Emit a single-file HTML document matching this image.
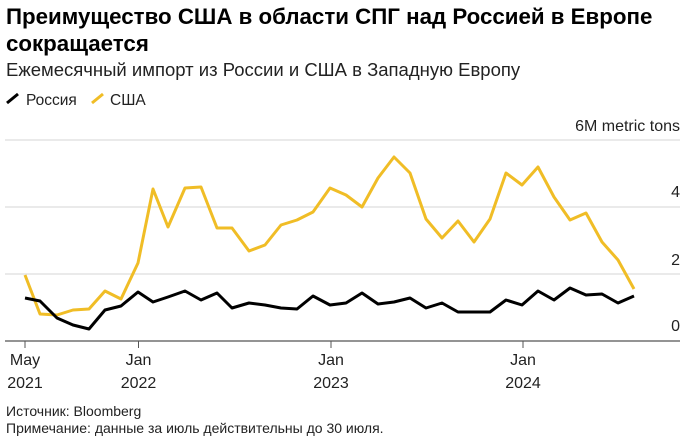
<!DOCTYPE html>
<html><head><meta charset="utf-8"><style>
body{margin:0;width:695px;height:446px;background:#fff;font-family:"Liberation Sans",sans-serif;color:#000;overflow:hidden;position:relative}
.t{position:absolute;left:6px;top:3px;font-size:22.3px;font-weight:bold;line-height:27px;white-space:nowrap}
.s{position:absolute;left:6px;top:59px;font-size:18.5px;color:#222;white-space:nowrap}
.f{position:absolute;left:6px;font-size:14px;color:#222;white-space:nowrap}
</style></head><body>
<div class="t">Преимущество США в области СПГ над Россией в Европе<br>сокращается</div>
<div class="s">Ежемесячный импорт из России и США в Западную Европу</div>
<svg width="695" height="446" style="position:absolute;left:0;top:0" font-family="Liberation Sans, sans-serif">
<line x1="7" y1="103" x2="18" y2="94" stroke="#000" stroke-width="3"/>
<text x="26" y="105" font-size="15.5" fill="#222">Россия</text>
<line x1="92" y1="103" x2="103" y2="94" stroke="#f0bd26" stroke-width="3"/>
<text x="110" y="105" font-size="15.5" fill="#222">США</text>
<text x="680" y="131" font-size="16" text-anchor="end" fill="#222">6M metric tons</text>
<g stroke="#ddd" stroke-width="1.2"><line x1="5" y1="140" x2="680" y2="140"/><line x1="5" y1="207" x2="680" y2="207"/><line x1="5" y1="274" x2="680" y2="274"/></g>
<line x1="5" y1="341" x2="680" y2="341" stroke="#555" stroke-width="1.2"/>
<g font-size="16" fill="#222" text-anchor="end"><text x="680" y="197">4</text><text x="680" y="265">2</text><text x="680" y="331">0</text></g>
<g stroke="#555"><line x1="25" y1="341" x2="25" y2="348"/><line x1="138.5" y1="341" x2="138.5" y2="348"/><line x1="331" y1="341" x2="331" y2="348"/><line x1="523" y1="341" x2="523" y2="348"/></g>
<g font-size="16" fill="#222" text-anchor="middle">
<text x="25" y="365">May</text><text x="25" y="388">2021</text>
<text x="138.5" y="365">Jan</text><text x="138.5" y="388">2022</text>
<text x="331" y="365">Jan</text><text x="331" y="388">2023</text>
<text x="523" y="365">Jan</text><text x="523" y="388">2024</text></g>
<polyline fill="none" stroke="#f0bd26" stroke-width="3" stroke-linejoin="round" points="25,275 40,314 57,315 73,310 89,309 105,291 121,299 138,263 153,189 168,227 185,188 201,187 217,228 232,228 249,251 265,245 281,225 297,220 313,212 330,188 346,195 362,207 378,178 394,157 410,173 426,219 442,238 458,221 474,242 490,219 506,173 522,185 538,167 554,197 570,220 586,213 602,242 618,260 634,289"/>
<polyline fill="none" stroke="#000" stroke-width="3" stroke-linejoin="round" points="25,298 40,301 57,318 73,325 89,329 105,310 121,306 138,292 153,302 168,297 185,291 201,300 217,293 232,308 249,303 265,305 281,308 297,309 313,296 330,305 346,303 362,293 378,304 394,302 410,298 426,308 442,303 458,312 474,312 490,312 506,300 522,305 538,291 554,300 570,288 586,295 602,294 618,303 634,296"/>
</svg>
<div class="f" style="top:403px">Источник: Bloomberg</div>
<div class="f" style="top:420px">Примечание: данные за июль действительны до 30 июля.</div>
</body></html>
